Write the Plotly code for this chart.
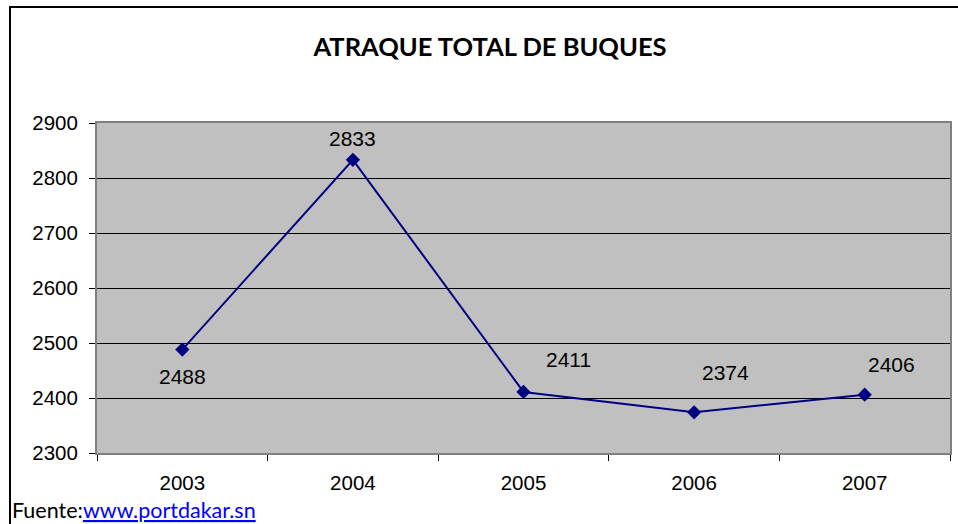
import plotly.graph_objects as go

years = ["2003", "2004", "2005", "2006", "2007"]
atraques = [2488, 2833, 2411, 2374, 2406]
y_ticks = [2300, 2400, 2500, 2600, 2700, 2800, 2900]

# label offsets (pixels) mimicking the manually placed data labels
label_dx = [0, 0, 45, 31, 27]
label_dy = [-27, 21, 32, 40, 30]

fig = go.Figure()
fig.add_trace(go.Scatter(
    x=years, y=atraques, mode="lines+markers",
    line=dict(color="#000080", width=2),
    marker=dict(symbol="diamond", size=11, color="#000080"),
    hoverinfo="x+y", showlegend=False,
))

for i, (v, dx, dy) in enumerate(zip(atraques, label_dx, label_dy)):
    fig.add_annotation(x=i, y=v, text=str(v), showarrow=False,
                       xshift=dx, yshift=dy,
                       font=dict(family="Liberation Sans, Arial", size=21, color="#000000"))

fig.add_annotation(
    xref="paper", yref="paper", x=(10 - 97) / 853, y=(453 - 510) / 330,
    xanchor="left", yanchor="middle", showarrow=False,
    text="Fuente:<span style='color:#0000FF'><u>www.portdakar.sn</u></span>",
    font=dict(family="Lato, Calibri, sans-serif", size=21.5, color="#000000"),
)

# outer chart border
fig.add_shape(type="rect", xref="paper", yref="paper",
              x0=(10 - 97) / 853, x1=(962 - 97) / 853,
              y0=(453 - 540) / 330, y1=(453 - 7) / 330,
              line=dict(color="#000000", width=2), fillcolor="rgba(0,0,0,0)", layer="below")

fig.update_layout(
    width=958, height=524,
    margin=dict(l=97, r=8, t=123, b=71, autoexpand=False),
    paper_bgcolor="#FFFFFF", plot_bgcolor="#C0C0C0",
    title=dict(text="<b>ATRAQUE TOTAL DE BUQUES</b>", x=490 / 958, xanchor="center",
               xref="container", yref="container", y=1 - 47 / 524, yanchor="middle",
               automargin=False,
               font=dict(family="Lato, Calibri, sans-serif", size=25.5, color="#000000")),
    font=dict(family="Liberation Sans, Arial", size=20, color="#000000"),
)

fig.update_xaxes(
    type="category", range=[-0.5, 4.5], tickson="boundaries", ticks="outside", ticklen=6,
    tickcolor="#000000", tickangle=0, automargin=False,
    showline=True, linecolor="#808080", linewidth=2, mirror=True,
    showgrid=False, ticklabelstandoff=10,
    tickfont=dict(family="Liberation Sans, Arial", size=20.5, color="#000000"),
)
fig.update_yaxes(
    range=[2300, 2900], tickvals=y_ticks, ticks="outside", ticklen=6, tickcolor="#000000",
    automargin=False,
    showline=True, linecolor="#808080", linewidth=2, mirror=True,
    showgrid=True, gridcolor="#000000", gridwidth=1, zeroline=False,
    ticklabelstandoff=7,
    tickfont=dict(family="Liberation Sans, Arial", size=20.5, color="#000000"),
)

fig.write_html("out.html", config={"displayModeBar": False},
               post_script="document.body.style.margin='0';")
